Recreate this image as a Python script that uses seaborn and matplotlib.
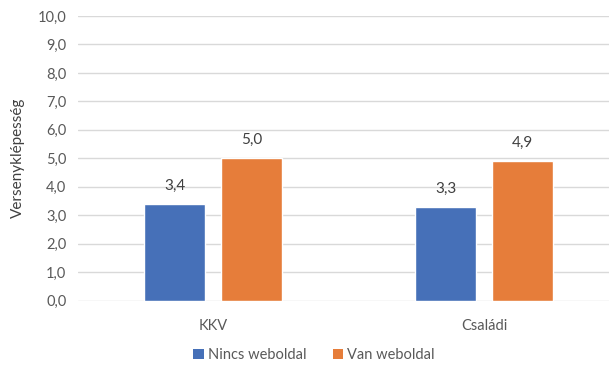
import matplotlib
matplotlib.use("Agg")
import matplotlib.pyplot as plt
import seaborn as sns
import pandas as pd
from matplotlib.patches import Patch
from matplotlib.ticker import FuncFormatter, MultipleLocator

categories = ["KKV", "Családi"]
series = ["Nincs weboldal", "Van weboldal"]
nincs_values = [3.4, 3.3]
van_values = [5.0, 4.9]
colors = ["#4670B8", "#E67D3A"]

df = pd.DataFrame({
    "kategória": categories * 2,
    "csoport": [series[0]] * 2 + [series[1]] * 2,
    "érték": nincs_values + van_values,
})

sns.set_theme(style="white")
plt.rcParams["font.family"] = ["Lato", "DejaVu Sans"]

fig = plt.figure(figsize=(6.09, 3.66), dpi=100)
ax = fig.add_axes([77.5 / 609, 1 - 300.5 / 366, (609 - 77.5) / 609, (300.5 - 16) / 366])

sns.barplot(data=df, x="kategória", y="érték", hue="csoport", order=categories,
            hue_order=series, palette=colors, width=0.568, gap=0.208,
            saturation=1, legend=False, ax=ax, zorder=3)

ax.set_ylim(0, 10)
ax.set_xlim(-0.5, -0.5 + 531.5 / 271)
ax.yaxis.set_major_locator(MultipleLocator(1))
ax.yaxis.set_major_formatter(FuncFormatter(lambda v, _: f"{v:.1f}".replace(".", ",")))
ax.grid(axis="y", color="#D9D9D9", linewidth=1.0, zorder=0)
for s in ax.spines.values():
    s.set_visible(False)
ax.tick_params(axis="both", length=0, labelsize=10.5, colors="#595959")
ax.tick_params(axis="y", pad=8)
ax.tick_params(axis="x", pad=13)
ax.set_xlabel("")
ax.set_ylabel("Versenyklépesség", fontsize=11, color="#404040", labelpad=9)

for container in ax.containers:
    labels = [f"{b.get_height():.1f}".replace(".", ",") for b in container]
    ax.bar_label(container, labels=labels, padding=8, fontsize=11, color="#404040")

handles = [Patch(facecolor=c, edgecolor="none") for c in colors]
fig.legend(handles, series, loc="center", bbox_to_anchor=(314 / 609, 1 - 355 / 366),
           ncol=2, frameon=False, fontsize=10.5, handlelength=0.7, handleheight=0.7,
           handletextpad=0.3, columnspacing=1.8, labelcolor="#595959")

fig.savefig("out.png", dpi=100)
